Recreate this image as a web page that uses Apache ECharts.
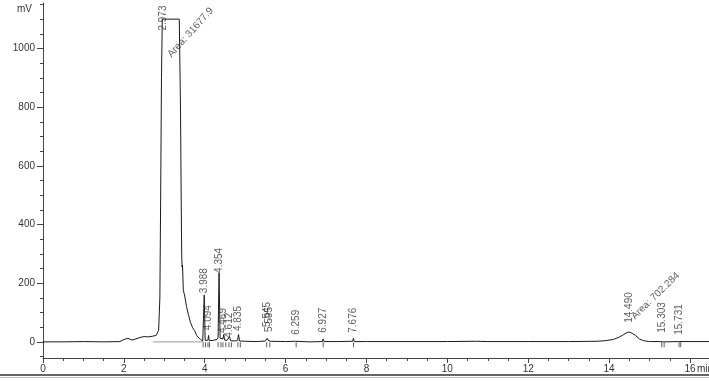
<!DOCTYPE html>
<html>
<head>
<meta charset="utf-8">
<script src="https://cdn.jsdelivr.net/npm/echarts@6/dist/echarts.min.js"></script>
<style>html,body{margin:0;padding:0;background:#fff}#c{width:709px;height:381px}</style>
</head>
<body>
<div id="c"></div>
<script>
// chromatogram trace (time in min, signal in mV)
const timeMin = [0,0.5,1.0,1.5,1.9,2.0,2.1,2.2,2.3,2.4,2.5,2.6,2.7,2.8,2.86,2.89,2.91,2.93,2.95,3.37,3.40,3.42,3.43,3.44,3.45,3.46,3.47,3.50,3.55,3.60,3.65,3.70,3.75,3.80,3.85,3.90,3.95,3.97,3.988,4.01,4.05,4.08,4.094,4.11,4.20,4.30,4.33,4.354,4.38,4.42,4.45,4.469,4.49,4.55,4.59,4.612,4.64,4.75,4.81,4.835,4.86,5.0,5.3,5.5,5.545,5.57,5.595,5.63,6.0,6.24,6.259,6.28,6.6,6.91,6.927,6.95,7.3,7.66,7.676,7.70,8.0,9.0,10.0,10.7,11.0,12.0,13.0,13.7,13.9,14.1,14.25,14.35,14.42,14.49,14.56,14.65,14.75,14.85,15.0,15.28,15.303,15.33,15.72,15.731,15.75,16.0,16.47];
const signalMV = [0,0,1,0,1,8,12,6,10,15,18,17,19,22,40,150,500,900,1100,1100,800,450,300,255,262,262,175,160,120,90,65,48,38,22,14,8,3,4,160,5,3,6,22,4,5,8,15,235,12,8,10,25,6,5,6,18,4,3,5,25,3,2,1,3,12,5,10,2,1,2,8,1,0,1,10,1,1,2,12,1,1,1,1,2,1,1,1,2,4,8,16,24,30,34,30,22,10,4,1,1,4,0,1,4,0,1,1];

// peak retention-time labels
const peakTimes  = [2.973,3.988,4.094,4.354,4.469,4.612,4.835,5.545,5.595,6.259,6.927,7.676,14.490,15.303,15.731];
const peakLabelY = [1061,166,40,235,30,14,37,51,34,24,31,31,65,31,24];
const peakNames  = ['2.973','3.988','4.094','4.354','4.469','4.612','4.835','5.545','5.595','6.259','6.927','7.676','14.490','15.303','15.731'];

// area annotations
const areaTimes = [3.13,14.59];
const areaY     = [975,82];
const areaTexts = ['Area: 31677.9','Area: 702.284'];
const areaAngle = [48,44];

// integration event marks under baseline
const markTimes = [3.96,4.02,4.08,4.12,4.33,4.40,4.45,4.52,4.60,4.66,4.82,4.88,5.53,5.61,6.26,6.93,7.68,15.30,15.36,15.73,15.77];

// axis ticks
const yLabelVals = [0,200,400,600,800,1000];
const yMinorVals = [-50,50,100,150,250,300,350,450,500,550,650,700,750,850,900,950,1050,1100,1150];
const xLabelVals = [0,2,4,6,8,10,12,14,16];
const xMinorVals = [0.5,1,1.5,2.5,3,3.5,4.5,5,5.5,6.5,7,7.5,8.5,9,9.5,10.5,11,11.5,12.5,13,13.5,14.5,15,15.5,16.5];

const trace = timeMin.map((t,i)=>[t,signalMV[i]]);
const FONT = "'Liberation Sans', Arial, sans-serif";

const peakLabelData = peakTimes.map((t,i)=>({
  value:[t,peakLabelY[i]],
  label:{formatter:peakNames[i], rotate:90}
}));
const areaLabelData = areaTimes.map((t,i)=>({
  value:[t,areaY[i]],
  label:{formatter:areaTexts[i], rotate:areaAngle[i]}
}));

const YMIN=-55, YMAX=1155, XMIN=0, XMAX=16.47;
const axisCol = '#444';

const chart = echarts.init(document.getElementById('c'));
chart.setOption({
  animation:false,
  backgroundColor:'#fff',
  grid:{left:43,right:0,top:3,bottom:23,containLabel:false},
  xAxis:[{
    type:'value',min:XMIN,max:XMAX,
    axisLine:{show:true,onZero:false,lineStyle:{color:axisCol,width:1}},
    axisTick:{show:true,customValues:xLabelVals,length:5,lineStyle:{color:axisCol}},
    axisLabel:{customValues:xLabelVals,formatter:v=>String(v),color:'#333',fontSize:10,fontFamily:FONT,margin:6},
    splitLine:{show:false}
  },{
    type:'value',min:XMIN,max:XMAX,position:'bottom',
    axisLine:{show:false,onZero:false},
    axisTick:{show:true,customValues:xMinorVals,length:3,lineStyle:{color:axisCol}},
    axisLabel:{show:false},
    splitLine:{show:false}
  }],
  yAxis:[{
    type:'value',min:YMIN,max:YMAX,
    axisLine:{show:true,onZero:false,lineStyle:{color:axisCol,width:1}},
    axisTick:{show:true,customValues:yLabelVals,length:6,lineStyle:{color:axisCol}},
    axisLabel:{customValues:yLabelVals,formatter:v=>String(v),color:'#333',fontSize:10,fontFamily:FONT,margin:8},
    splitLine:{show:false}
  },{
    type:'value',min:YMIN,max:YMAX,position:'left',
    axisLine:{show:false,onZero:false},
    axisTick:{show:true,customValues:yMinorVals,length:3,lineStyle:{color:axisCol}},
    axisLabel:{show:false},
    splitLine:{show:false}
  }],
  graphic:[
    {type:'text',left:17,top:4,style:{text:'mV',fontSize:10,fontFamily:FONT,fill:'#333'}},
    {type:'text',left:697,top:364,style:{text:'min',fontSize:10,fontFamily:FONT,fill:'#333'}},
    {type:'rect',left:0,top:374,shape:{width:709,height:2},style:{fill:'#666'}},
    {type:'rect',left:0,top:377,shape:{width:709,height:1},style:{fill:'#bbb'}}
  ],
  series:[
    {
      type:'line',data:[[2.72,0],[3.95,0]],showSymbol:false,
      lineStyle:{color:'#999',width:1},silent:true,z:1
    },
    {
      type:'line',data:trace,showSymbol:false,smooth:false,
      lineStyle:{color:'#1a1a1a',width:1},silent:true,z:2
    },
    {
      type:'scatter',data:markTimes.map(t=>[t,-10]),
      symbol:'rect',symbolSize:[1,5],itemStyle:{color:'#333'},silent:true,z:3
    },
    {
      type:'scatter',data:peakLabelData,symbolSize:0,silent:true,z:4,
      label:{show:true,position:[0,0],align:'left',verticalAlign:'middle',
        fontSize:10,fontFamily:FONT,color:'#333'}
    },
    {
      type:'scatter',data:areaLabelData,symbolSize:0,silent:true,z:4,
      label:{show:true,position:[0,0],align:'left',verticalAlign:'middle',
        fontSize:10,fontFamily:FONT,color:'#333'}
    }
  ]
});
</script>
</body>
</html>
